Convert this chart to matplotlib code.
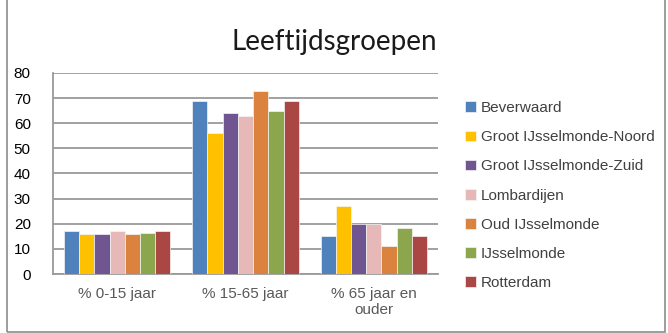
import numpy as np
import matplotlib.pyplot as plt
from matplotlib.patches import Rectangle

categories = ["% 0-15 jaar", "% 15-65 jaar", "% 65 jaar en\nouder"]
wijken = ["Beverwaard", "Groot IJsselmonde-Noord", "Groot IJsselmonde-Zuid",
          "Lombardijen", "Oud IJsselmonde", "IJsselmonde", "Rotterdam"]
waarden = [
    [17, 69, 15],
    [16, 56, 27],
    [16, 64, 20],
    [17, 63, 20],
    [16, 73, 11],
    [16.5, 65, 18.5],
    [17, 69, 15],
]
kleuren = ["#4F81BD", "#FFC000", "#6F5690", "#E6B9B8", "#DC823F", "#8CA64E", "#AA4643"]

plt.rcParams['font.family'] = ['Liberation Sans', 'DejaVu Sans']

fig = plt.figure(figsize=(6.68, 3.33), dpi=100)
fig.patches.append(Rectangle((0.011, 0.004), 0.985, 1.2, transform=fig.transFigure,
                             fill=False, edgecolor="#8c8c8c", linewidth=1.2))

ax = fig.add_axes([0.0793, 0.177, 0.5764, 0.604])
x = np.arange(len(categories))
n = len(wijken)
w = 0.83 / n
for i, (naam, vals, kl) in enumerate(zip(wijken, waarden, kleuren)):
    ax.bar(x + (i - (n - 1) / 2) * w, vals, width=w, color=kl, label=naam,
           edgecolor="#f4f4f4", linewidth=0.5, zorder=3)

ax.set_xlim(-0.5, len(categories) - 0.5)
ax.set_ylim(0, 80)
ax.set_yticks(range(0, 81, 10))
ax.yaxis.grid(True, color="#9a9a9a", linewidth=1.3)
ax.set_axisbelow(True)
ax.tick_params(axis="y", length=0, labelsize=11, pad=16, colors="#000000")
ax.tick_params(axis="x", length=0, labelsize=11, pad=9, colors="#595959")
ax.set_xticks(x)
ax.set_xticklabels(categories, linespacing=1.25)
for s in ["top", "right"]:
    ax.spines[s].set_visible(False)
for s in ["left", "bottom"]:
    ax.spines[s].set_color("#9a9a9a")
    ax.spines[s].set_linewidth(1.3)

fig.text(0.5, 0.875, "Leeftijdsgroepen", ha="center", va="center",
         fontsize=20, color="#1a1a1a", family=["Lato", "DejaVu Sans"])

ax.legend(loc="upper left", bbox_to_anchor=(1.055, 0.89), frameon=False,
          fontsize=11, labelcolor="#404040", handlelength=0.7, handleheight=0.7,
          handletextpad=0.3, labelspacing=0.99, borderaxespad=0)

fig.savefig("out.png", dpi=100)
